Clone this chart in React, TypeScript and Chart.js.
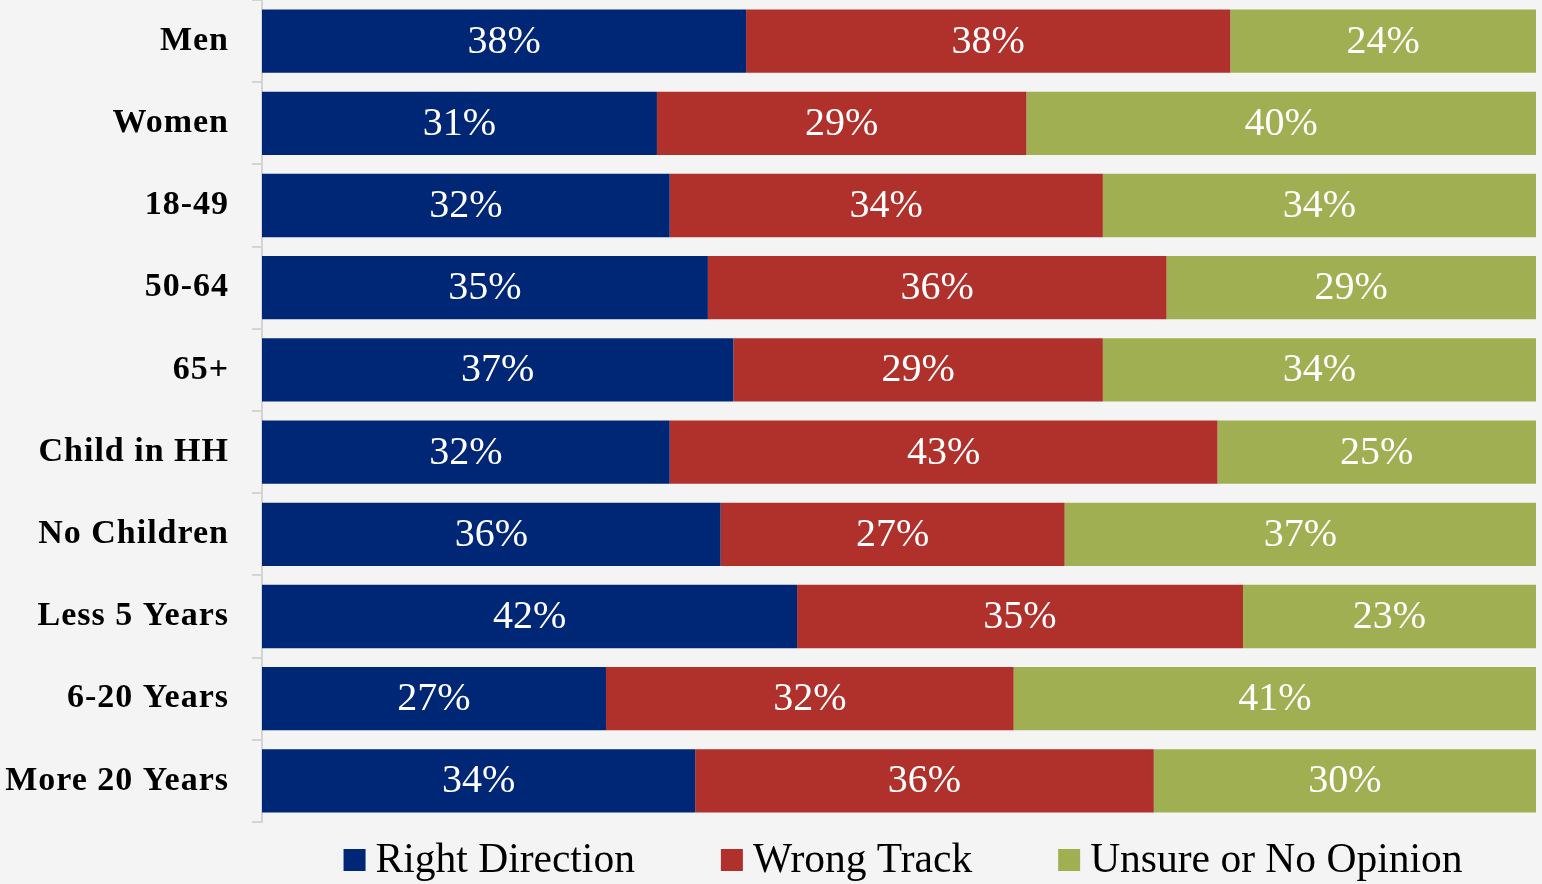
import React, { useEffect, useRef } from "react";
import { Chart, registerables } from "chart.js";

Chart.register(...registerables);

const categories = [
  "Men",
  "Women",
  "18-49",
  "50-64",
  "65+",
  "Child in HH",
  "No Children",
  "Less 5 Years",
  "6-20 Years",
  "More 20 Years",
];
const rightDirection = [38, 31, 32, 35, 37, 32, 36, 42, 27, 34];
const wrongTrack = [38, 29, 34, 36, 29, 43, 27, 35, 32, 36];
const unsure = [24, 40, 34, 29, 34, 25, 37, 23, 41, 30];
const seriesNames = ["Right Direction", "Wrong Track", "Unsure or No Opinion"];
const seriesColors = ["#002776", "#B0312B", "#A0AF52"];

const FONT = "'Liberation Serif', 'DejaVu Serif', serif";

const bgPlugin = {
  id: "bgFill",
  beforeDraw(chart: any) {
    const { ctx, width, height } = chart;
    ctx.save();
    ctx.fillStyle = "#f4f4f4";
    ctx.fillRect(0, 0, width, height);
    ctx.restore();
    ctx.letterSpacing = "1px";
  },
  beforeDatasetsDraw(chart: any) {
    chart.ctx.letterSpacing = "0px";
  },
};

const labelPlugin = {
  id: "barLabels",
  afterDatasetsDraw(chart: any) {
    const { ctx } = chart;
    ctx.save();
    ctx.letterSpacing = "0px";
    ctx.font = `40px ${FONT}`;
    ctx.fillStyle = "#ffffff";
    ctx.textAlign = "center";
    ctx.textBaseline = "middle";
    chart.data.datasets.forEach((ds: any, di: number) => {
      const meta = chart.getDatasetMeta(di);
      meta.data.forEach((bar: any, i: number) => {
        const cx = (bar.x + bar.base) / 2;
        ctx.fillText(`${ds.data[i]}%`, cx, bar.y + 1);
      });
    });
    ctx.restore();
  },
};

const legendPlugin = {
  id: "customLegend",
  afterDraw(chart: any) {
    const { ctx, chartArea } = chart;
    ctx.save();
    ctx.letterSpacing = "0px";
    ctx.font = `41.5px ${FONT}`;
    const box = 22;
    const gapBoxText = 10;
    const gapItems = 86;
    const widths = seriesNames.map((n) => ctx.measureText(n).width);
    const total =
      widths.reduce((a, w) => a + box + gapBoxText + w, 0) + gapItems * (seriesNames.length - 1);
    let x = (chartArea.left + chartArea.right) / 2 + 4 - total / 2;
    const cy = 860;
    ctx.textBaseline = "middle";
    ctx.textAlign = "left";
    seriesNames.forEach((n, i) => {
      ctx.fillStyle = seriesColors[i];
      ctx.fillRect(x, cy - box / 2, box, box);
      ctx.fillStyle = "#000000";
      ctx.fillText(n, x + box + gapBoxText, cy + 1);
      x += box + gapBoxText + widths[i] + gapItems;
    });
    ctx.restore();
  },
};

export default function App() {
  const ref = useRef<HTMLCanvasElement | null>(null);
  useEffect(() => {
    document.body.style.margin = "0";
    const canvas = ref.current;
    if (!canvas) return;
    const data = [rightDirection, wrongTrack, unsure];
    const chart = new Chart(canvas, {
      type: "bar",
      data: {
        labels: categories,
        datasets: data.map((d, i) => ({
          label: seriesNames[i],
          data: d,
          backgroundColor: seriesColors[i],
          borderWidth: 0,
          barPercentage: 0.77,
          categoryPercentage: 1,
        })),
      },
      options: {
        indexAxis: "y",
        responsive: false,
        animation: false,
        layout: { padding: { top: 0, right: 6, bottom: 62, left: 0 } },
        plugins: {
          legend: { display: false },
          tooltip: { enabled: false },
        },
        scales: {
          x: {
            stacked: true,
            min: 0,
            max: 100,
            display: false,
          },
          y: {
            stacked: true,
            afterFit(scale: any) {
              scale.width = 262;
              scale.paddingTop = 0;
              scale.paddingBottom = 0;
            },
            border: { display: true, color: "#d4d4d4", width: 2 },
            grid: {
              display: true,
              drawOnChartArea: false,
              drawTicks: true,
              tickLength: 10,
              color: "#d4d4d4",
              lineWidth: 2,
              offset: true,
            },
            ticks: {
              padding: 23,
              color: "#000000",
              font: { family: FONT, size: 34, weight: "bold" },
            },
          },
        },
      },
      plugins: [bgPlugin, labelPlugin, legendPlugin],
    });
    return () => chart.destroy();
  }, []);
  return (
    <div style={{ width: 1542, height: 884 }}>
      <canvas ref={ref} width={1542} height={884} style={{ display: "block" }} />
    </div>
  );
}
